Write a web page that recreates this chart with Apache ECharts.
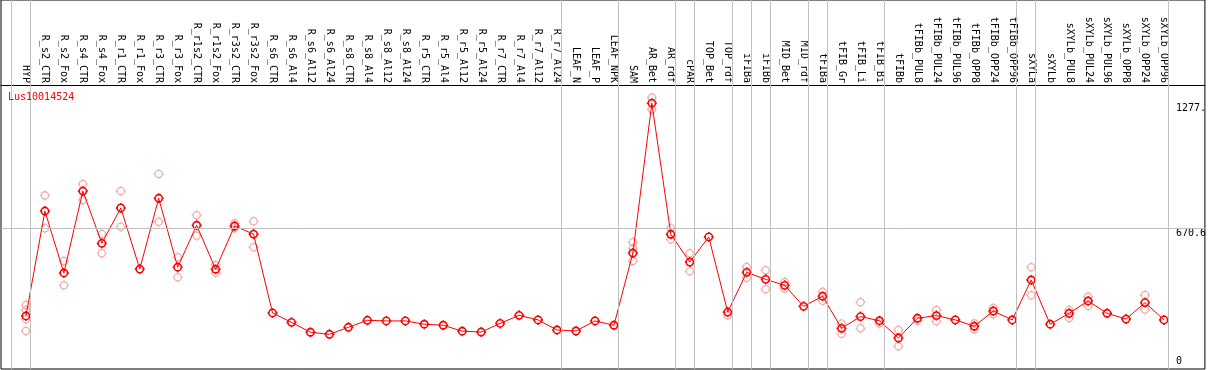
<!DOCTYPE html>
<html><head><meta charset="utf-8">
<script src="https://cdn.jsdelivr.net/npm/echarts@6/dist/echarts.min.js"></script>
<style>html,body{margin:0;padding:0;background:#fff}#c{width:1209px;height:370px}</style>
</head><body><div id="c"></div>
<script>
const geneName = 'Lus10014524';
const categories = ['HYP','R_s2_CTR','R_s2_Fox','R_s4_CTR','R_s4_Fox','R_r1_CTR','R_r1_Fox','R_r3_CTR','R_r3_Fox','R_r1s2_CTR','R_r1s2_Fox','R_r3s2_CTR','R_r3s2_Fox','R_s6_CTR','R_s6_Al4','R_s6_Al12','R_s6_Al24','R_s8_CTR','R_s8_Al4','R_s8_Al12','R_s8_Al24','R_r5_CTR','R_r5_Al4','R_r5_Al12','R_r5_Al24','R_r7_CTR','R_r7_Al4','R_r7_Al12','R_r7_Al24','LEAF_N','LEAF_P','LEAF_NPK','SAM','AR_Bet','AR_rdf','cPAR','TOP_Bet','TOP_rdf','iFIBa','iFIBb','MID_Bet','MID_rdf','tFIBa','tFIB_Gr','tFIB_Li','tFIB_Bi','tFIBb','tFIBb_PUL8','tFIBb_PUL24','tFIBb_PUL96','tFIBb_OPP8','tFIBb_OPP24','tFIBb_OPP96','sXYLa','sXYLb','sXYLb_PUL8','sXYLb_PUL24','sXYLb_PUL96','sXYLb_OPP8','sXYLb_OPP24','sXYLb_OPP96'];
const meanValues = [243,753,452,850,596,768,471,815,480,684,470,680,641,258,212,164,154,188,222,219,219,203,198,169,165,207,246,224,175,170,219,198,549,1277,640,505,627,262,455,421,392,290,339,183,240,220,136,232,245,224,193,267,224,418,203,256,316,256,228,308,224];
const replicateValues = [[296,272,227,170],[829,669],[510,392],[884,807],[641,548],[850,677],[],[933,701],[528,431],[732,633],[491,453],[693,669],[703,577],[],[],[],[],[],[],[],[],[],[],[],[],[],[],[],[],[],[],[],[601,572,510],[1304,1247],[669,616],[548,460],[],[246],[481,429],[465,373],[408,376],[],[360,317],[206,157],[310,183],[207],[175,96],[220],[272,217],[],[207,178],[282,251],[],[480,344],[],[272,233],[337,292],[],[],[345,275],[]];
const groupEndIndex = [-1,0,28,31,34,35,37,38,39,41,42,45,52,53,60];
const yTickValues = [670.6, 1277.2];
const yTickLabels = ['670.6', '1277.'];
const yZeroValue = [0];
const yZeroLabel = ['0'];

const mono = 'DejaVu Sans Mono';
const markerPath = 'path://M0,-4A4,4 0 1,1 0,4A4,4 0 1,1 0,-4M0,-5.5L0,-4M0,4L0,5.5M-5.5,0L-4,0M4,0L5.5,0';

const meanData = meanValues.map((v, i) => [i, v]);
const repData = [];
replicateValues.forEach((arr, i) => arr.forEach(v => repData.push([i, v])));

const chart = echarts.init(document.getElementById('c'), null, {renderer: 'canvas'});
chart.setOption({
  animation: false,
  backgroundColor: '#fff',
  title: {text: geneName, left: 8, top: 92, padding: 0,
    textStyle: {color: '#ff0000', fontSize: 10, fontWeight: 'normal', fontFamily: mono}},
  grid: {left: 1, right: 2, top: 0, bottom: 1, show: true, borderColor: '#000', borderWidth: 1, backgroundColor: '#fff'},
  xAxis: {
    type: 'value', min: -25/19, max: 1181/19, position: 'top', offset: -85,
    axisLine: {show: true, onZero: false, lineStyle: {color: '#000', width: 1}},
    axisTick: {show: false}, splitLine: {show: false},
    axisLabel: {customValues: categories.map((c, i) => i), rotate: 90, margin: 2,
      formatter: v => categories[Math.round(v)] || '', color: '#000', fontSize: 10, fontFamily: mono}
  },
  yAxis: [
    {type: 'value', min: -14.6, max: 1778.4, position: 'right', offset: -31,
      axisLine: {show: false}, axisTick: {show: false}, splitLine: {show: false},
      axisLabel: {customValues: yTickValues, margin: 2, verticalAlign: 'top', align: 'left',
        formatter: v => yTickLabels[yTickValues.indexOf(v)], color: '#000', fontSize: 10, fontFamily: mono}},
    {type: 'value', min: -14.6, max: 1778.4, position: 'right', offset: -31,
      axisLine: {show: false}, axisTick: {show: false}, splitLine: {show: false},
      axisLabel: {customValues: yZeroValue, margin: 2, verticalAlign: 'bottom', align: 'left',
        formatter: v => yZeroLabel[yZeroValue.indexOf(v)], color: '#000', fontSize: 10, fontFamily: mono}}
  ],
  series: [
    {type: 'line', data: [], silent: true, z: 1,
      markLine: {silent: true, symbol: 'none', label: {show: false},
        lineStyle: {color: '#c0c0c0', width: 1, type: 'solid'},
        data: groupEndIndex.map(g => ({xAxis: g + 0.23})).concat([{yAxis: 670.6}])}},
    {type: 'scatter', data: repData, symbol: markerPath, symbolSize: 10, z: 3,
      itemStyle: {color: 'rgba(0,0,0,0)', borderColor: '#f09898', borderWidth: 1.3}},
    {type: 'line', data: meanData, symbol: markerPath, symbolSize: 10, showSymbol: true, z: 4,
      lineStyle: {color: '#ff0000', width: 1},
      itemStyle: {color: 'rgba(0,0,0,0)', borderColor: '#ff0000', borderWidth: 1.6}}
  ]
});
</script></body></html>
